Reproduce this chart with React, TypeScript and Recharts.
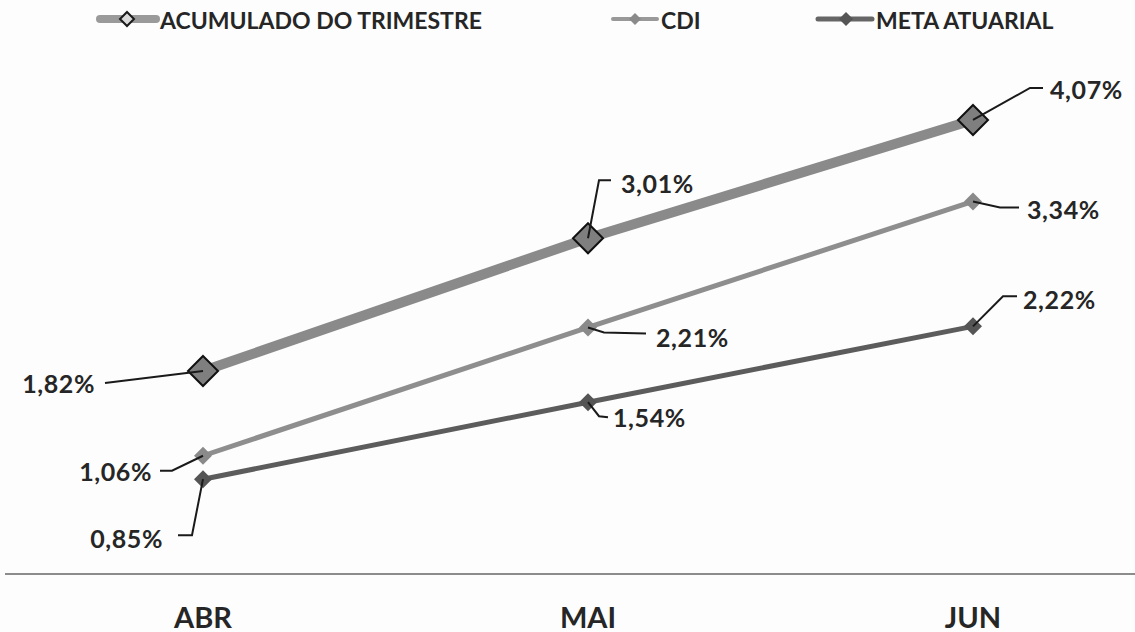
import React from "react";
import { LineChart, Line, XAxis, YAxis, LabelList } from "recharts";

const MONTHS = ["ABR", "MAI", "JUN"];
const ACUMULADO = [1.82, 3.01, 4.07];
const CDI = [1.06, 2.21, 3.34];
const META = [0.85, 1.54, 2.22];

const FONT = "Lato, 'Open Sans', sans-serif";
const TEXT = "#262626";

const data = MONTHS.map((month, i) => ({
  month,
  acumulado: ACUMULADO[i],
  cdi: CDI[i],
  meta: META[i],
}));

// callout placement per point: text offset from the point + leader line path
type Spot = { dx: number; dy: number; anchor: "start" | "end"; path: number[][] };

const SPOTS: Record<string, Spot[]> = {
  acumulado: [
    { dx: -108, dy: 12, anchor: "end", path: [[-98, 12], [0, 0]] },
    { dx: 33, dy: -55, anchor: "start", path: [[0, 0], [11, -58], [23, -58]] },
    { dx: 77, dy: -31, anchor: "start", path: [[0, 0], [57, -32], [70, -32]] },
  ],
  cdi: [
    { dx: -51, dy: 15, anchor: "end", path: [[-43, 15], [-31, 15], [0, 0]] },
    { dx: 68, dy: 10, anchor: "start", path: [[0, 0], [16, 5], [58, 6]] },
    { dx: 54, dy: 8, anchor: "start", path: [[0, 0], [27, 6], [46, 6]] },
  ],
  meta: [
    { dx: -40, dy: 59, anchor: "end", path: [[0, 0], [-11, 56], [-25, 56]] },
    { dx: 25, dy: 15, anchor: "start", path: [[0, 0], [11, 14], [20, 15]] },
    { dx: 50, dy: -27, anchor: "start", path: [[0, 0], [30, -30], [44, -30]] },
  ],
};

const fmt = (v: number) => v.toFixed(2).replace(".", ",") + "%";

function Callout(props: any) {
  const { x, y, value, index, spots } = props;
  const s: Spot = spots[index];
  if (!s || x == null || y == null) return null;
  const pts = s.path.map(([px, py]) => `${x + px},${y + py}`).join(" ");
  return (
    <g>
      <polyline points={pts} fill="none" stroke="#1a1a1a" strokeWidth={2} />
      <text
        x={x + s.dx}
        y={y + s.dy}
        textAnchor={s.anchor}
        dominantBaseline="central"
        fontFamily={FONT}
        fontWeight={700}
        fontSize={25}
        letterSpacing={0.6}
        fill={TEXT}
      >
        {fmt(value)}
      </text>
    </g>
  );
}

function diamond(r: number, fill: string, stroke: string, sw: number) {
  return (p: any) => {
    const { cx, cy, index } = p;
    if (cx == null || cy == null) return <g key={`n-${index}`} />;
    return (
      <polygon
        key={`d-${index}`}
        points={`${cx},${cy - r} ${cx + r},${cy} ${cx},${cy + r} ${cx - r},${cy}`}
        fill={fill}
        stroke={stroke}
        strokeWidth={sw}
      />
    );
  };
}

function MonthTick(props: any) {
  const { x, y, payload } = props;
  return (
    <text
      x={x}
      y={y + 40}
      textAnchor="middle"
      dominantBaseline="central"
      fontFamily={FONT}
      fontWeight={700}
      fontSize={29}
      fill={TEXT}
    >
      {payload.value}
    </text>
  );
}

function LegendRow() {
  const txt = {
    fontFamily: FONT,
    fontWeight: 700,
    fontSize: 23,
    fill: TEXT,
  } as const;
  return (
    <svg width={1135} height={40} style={{ position: "absolute", top: 0, left: 0 }}>
      <line x1={100} y1={19} x2={156} y2={19} stroke="#9a9a9a" strokeWidth={8} strokeLinecap="round" />
      <polygon points="127,12 134,19 127,26 120,19" fill="#d9d9d9" stroke="#1a1a1a" strokeWidth={2} />
      <text x={160} y={20} dominantBaseline="central" {...txt}>
        ACUMULADO DO TRIMESTRE
      </text>

      <line x1={613} y1={19} x2={657} y2={19} stroke="#999" strokeWidth={4} strokeLinecap="round" />
      <polygon points="635,13 641,19 635,25 629,19" fill="#8a8a8a" />
      <text x={661} y={20} dominantBaseline="central" {...txt}>
        CDI
      </text>

      <line x1={818} y1={19} x2={872} y2={19} stroke="#666" strokeWidth={5} strokeLinecap="round" />
      <polygon points="846,12 853,19 846,26 839,19" fill="#555" />
      <text x={876} y={20} dominantBaseline="central" {...txt}>
        META ATUARIAL
      </text>
    </svg>
  );
}

export default function App() {
  return (
    <div
      style={{
        position: "absolute",
        top: 0,
        left: 0,
        width: 1135,
        height: 632,
        background: "#fdfdfd",
        overflow: "hidden",
      }}
    >
      <LegendRow />
      <div style={{ position: "absolute", top: 0, left: 0 }}>
        <LineChart
          width={1135}
          height={632}
          data={data}
          margin={{ top: 72, right: 0, left: 5, bottom: 0 }}
        >
          <XAxis
            dataKey="month"
            padding={{ left: 198, right: 162 }}
            axisLine={{ stroke: "#8c8c8c", strokeWidth: 2 }}
            tickLine={false}
            tickSize={0}
            height={58}
            tick={<MonthTick />}
          />
          <YAxis hide domain={[0, 4.5]} />
          <Line
            dataKey="acumulado"
            stroke="#8a8a8a"
            strokeWidth={10}
            dot={diamond(15, "#7f7f7f", "#111", 2)}
            activeDot={false}
            isAnimationActive={false}
          >
            <LabelList dataKey="acumulado" content={<Callout spots={SPOTS.acumulado} />} />
          </Line>
          <Line
            dataKey="cdi"
            stroke="#8e8e8e"
            strokeWidth={5}
            dot={diamond(9, "#8a8a8a", "none", 0)}
            activeDot={false}
            isAnimationActive={false}
          >
            <LabelList dataKey="cdi" content={<Callout spots={SPOTS.cdi} />} />
          </Line>
          <Line
            dataKey="meta"
            stroke="#5c5c5c"
            strokeWidth={5}
            dot={diamond(9, "#555", "none", 0)}
            activeDot={false}
            isAnimationActive={false}
          >
            <LabelList dataKey="meta" content={<Callout spots={SPOTS.meta} />} />
          </Line>
        </LineChart>
      </div>
    </div>
  );
}
